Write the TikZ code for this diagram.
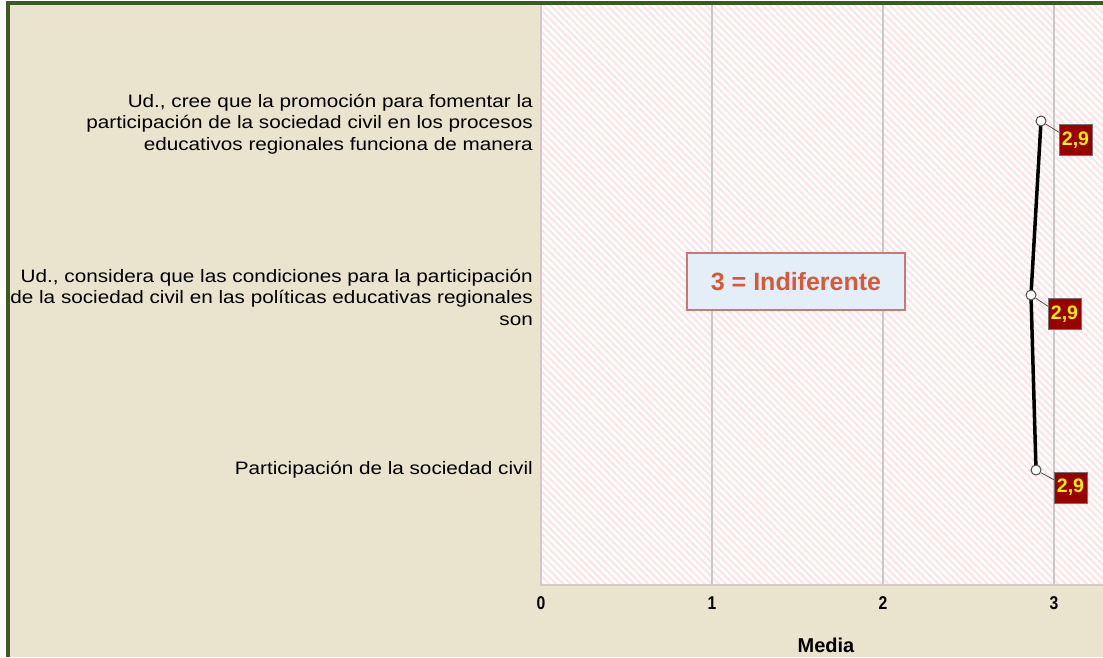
\documentclass[tikz,border=0pt]{standalone}
\usepackage{fontspec}
\setmainfont{Liberation Sans}
\newfontfamily\labfont[FakeStretch=1.15]{Liberation Sans}
\newfontfamily\tickfont[FakeStretch=0.85]{Liberation Sans}
\usetikzlibrary{patterns.meta}
\definecolor{bgc}{HTML}{EAE4CF}
\definecolor{frame}{HTML}{3B5B23}
\definecolor{hatch}{HTML}{FCE3E5}
\definecolor{gridc}{HTML}{C8C8C8}
\definecolor{pborder}{HTML}{D6C8C8}
\definecolor{notefill}{HTML}{E3EEF9}
\definecolor{noteborder}{HTML}{CC7777}
\definecolor{notetext}{HTML}{D55A3A}
\definecolor{valfill}{HTML}{990000}
\definecolor{valtext}{HTML}{FFEE00}
\tikzset{
  itemlabel/.style={anchor=east, align=right, inner sep=0pt, font=\labfont\fontsize{18}{21.5}\selectfont},
  ticklabel/.style={inner sep=0pt, font=\tickfont\bfseries\fontsize{18.5}{18.5}\selectfont},
  gridline/.style={draw=gridc, line width=1.5pt},
  datapt/.style={circle, draw=black!70, fill=white, line width=1pt, minimum size=10pt, inner sep=0pt},
  valbox/.style={draw=black!55, fill=valfill, text=valtext, minimum width=33pt, minimum height=31pt, inner sep=0pt, font=\bfseries\fontsize{19.5}{19.5}\selectfont},
  leader/.style={draw=black!70, line width=0.8pt},
  notebox/.style={draw=noteborder, fill=notefill, line width=1.5pt, text=notetext, minimum width=218pt, minimum height=57pt, inner sep=0pt, font=\bfseries\fontsize{25}{25}\selectfont}
}
\begin{document}
\begin{tikzpicture}[x=1pt,y=-1pt]
\useasboundingbox (0,0) rectangle (1103,657);
\fill[white] (0,0) rectangle (1103,657);
\fill[bgc] (6,1) rectangle (1103,657);
% plot area
\fill[white] (541,5) rectangle (1103,585);
\fill[pattern={Lines[angle=-45,distance=5pt,line width=2pt]}, pattern color=hatch] (541,5) rectangle (1103,585);
\draw[gridline] (712,5) -- (712,585);
\draw[gridline] (883,5) -- (883,585);
\draw[gridline] (1054,5) -- (1054,585);
\draw[pborder, line width=1.5pt] (541,5) -- (541,585) -- (1103,585);
% frame
\fill[frame] (6,1) rectangle (1103,5);
\fill[frame] (6,1) rectangle (10,657);
% category labels
\node[itemlabel] (q1) at (533,124) {Ud., cree que la promoción para fomentar la\\participación de la sociedad civil en los procesos\\educativos regionales funciona de manera};
\node[itemlabel] (q2) at (533,297) {Ud., considera que las condiciones para la participación\\de la sociedad civil en las políticas educativas regionales\\son};
\node[itemlabel] (q3) at (533,470) {Participación de la sociedad civil};
% axis
\node[ticklabel] (t0) at (541,603) {0};
\node[ticklabel] (t1) at (712,603) {1};
\node[ticklabel] (t2) at (883,603) {2};
\node[ticklabel] (t3) at (1054,603) {3};
\node[inner sep=0pt, font=\bfseries\fontsize{20}{20}\selectfont] (xl) at (826,645) {Media};
% note
\node[notebox] (note) at (796,281.5) {3 = Indiferente};
% data
\coordinate (d1) at (1041,121);
\coordinate (d2) at (1031,295);
\coordinate (d3) at (1036,470);
\draw[black, line width=3.5pt, line join=round] (d1) -- (d2) -- (d3);
\node[datapt] (c1) at (d1) {};
\node[datapt] (c2) at (d2) {};
\node[datapt] (c3) at (d3) {};
\node[valbox] (v1) at (1075.5,140) {2,9};
\node[valbox] (v2) at (1064.5,314) {2,9};
\node[valbox] (v3) at (1070.5,487.5) {2,9};
\draw[leader] (c1) -- (v1.155);
\draw[leader] (c2) -- (v2.155);
\draw[leader] (c3) -- (v3.155);
\end{tikzpicture}
\end{document}
